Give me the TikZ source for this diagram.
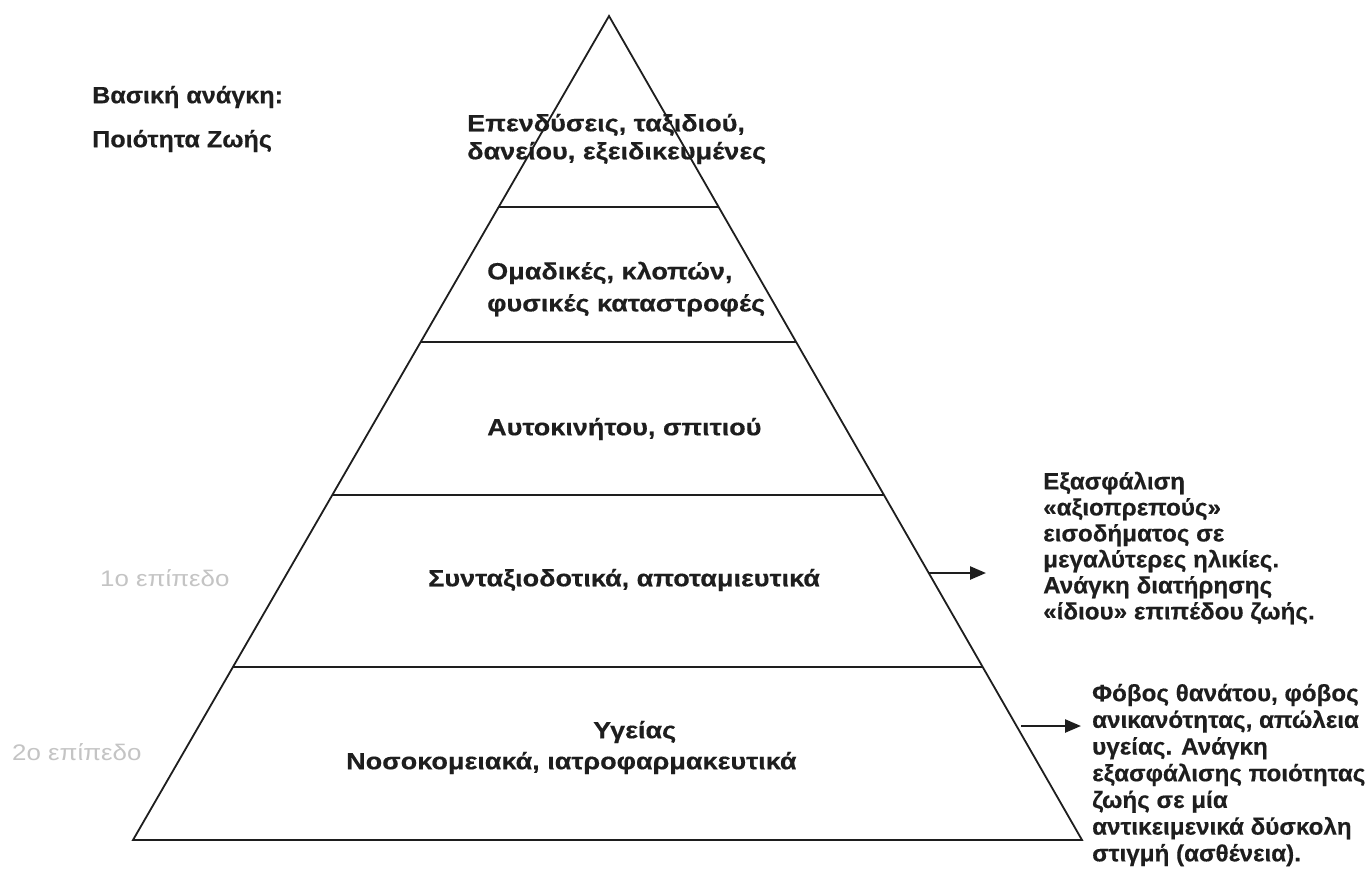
\documentclass[tikz,border=0pt]{standalone}
\usepackage{fontspec}
\setmainfont{Liberation Sans}
\newfontfamily\widefont{Liberation Sans}[FakeStretch=1.15,FakeBold=0.4]
\newfontfamily\midfont{Liberation Sans}[FakeStretch=1.07,FakeBold=0.4]
\newfontfamily\sidefont{Liberation Sans}[FakeStretch=1.03,FakeBold=0.4]
\newfontfamily\greyfont{Liberation Sans}[FakeStretch=1.15]
\usetikzlibrary{arrows.meta,calc}
\definecolor{ink}{HTML}{1E1E1E}
\definecolor{faint}{HTML}{C4C4C4}
\begin{document}
\begin{tikzpicture}[x=1pt,y=-1pt,
  base/.style={text=ink, inner sep=0pt, align=left},
  lbl/.style={base, font=\widefont\fontsize{23.5}{28}\selectfont\bfseries},
  head/.style={base, font=\midfont\fontsize{23.5}{28}\selectfont\bfseries},
  side/.style={base, font=\sidefont\fontsize{23.5}{26}\selectfont\bfseries},
  lvl/.style={font=\greyfont\fontsize{22.5}{26}\selectfont, text=faint, inner sep=0pt},
  edge/.style={draw=ink, line width=1.8pt},
  arr/.style={draw=ink, line width=2.4pt, -{Triangle[length=16pt,width=13pt]}}]
\useasboundingbox (0,0) rectangle (1372,868);
\fill[white] (0,0) rectangle (1372,868);
\coordinate (A) at (609,16);
\coordinate (L) at (133,840);
\coordinate (R) at (1082,840);
\draw[edge, line join=miter] (A) -- (L) -- (R) -- cycle;
\foreach \t/\n in {0.2318/1,0.3956/2,0.5813/3,0.7900/4} {
  \coordinate (l\n) at ($(A)!\t!(L)$);
  \coordinate (r\n) at ($(A)!\t!(R)$);
  \draw[edge] (l\n) -- (r\n);
}
\node[head, anchor=west] (basic) at (92,97) {Βασική ανάγκη:};
\node[head, anchor=west] (qual) at (92,141) {Ποιότητα Ζωής};
\node[lbl, anchor=west, font=\widefont\fontsize{23.5}{28}\selectfont\bfseries] (t1) at (467,139) {Επενδύσεις, ταξιδιού,\\δανείου, εξειδικευμένες};
\node[lbl, anchor=west, font=\widefont\fontsize{23.5}{32}\selectfont\bfseries] (t2) at (487,289) {Ομαδικές, κλοπών,\\φυσικές καταστροφές};
\node[lbl, anchor=west] (t3) at (487,429) {Αυτοκινήτου, σπιτιού};
\node[lbl, anchor=west] (t4) at (428,580) {Συνταξιοδοτικά, αποταμιευτικά};
\node[lbl, anchor=west] (t5a) at (593,732) {Υγείας};
\node[lbl, anchor=west] (t5b) at (346,763) {Νοσοκομειακά, ιατροφαρμακευτικά};
\node[side, anchor=west] (n1) at (1043,548) {Εξασφάλιση\\«αξιοπρεπούς»\\εισοδήματος σε\\μεγαλύτερες ηλικίες.\\Ανάγκη διατήρησης\\«ίδιου» επιπέδου ζωής.};
\node[side, anchor=west, font=\sidefont\fontsize{23.5}{26.7}\selectfont\bfseries] (n2) at (1092,775) {Φόβος θανάτου, φόβος\\ανικανότητας, απώλεια\\υγείας. Ανάγκη\\εξασφάλισης ποιότητας\\ζωής σε μία\\αντικειμενικά δύσκολη\\στιγμή (ασθένεια).};
\node[lvl, anchor=west] (lev1) at (100,578) {1ο επίπεδο};
\node[lvl, anchor=west] (lev2) at (12,752) {2ο επίπεδο};
\coordinate (a1s) at (928,573);
\coordinate (a1e) at (986,573);
\coordinate (a2s) at (1021,726);
\coordinate (a2e) at (1081,726);
\draw[arr] (a1s) -- (a1e);
\draw[arr] (a2s) -- (a2e);
\end{tikzpicture}
\end{document}
